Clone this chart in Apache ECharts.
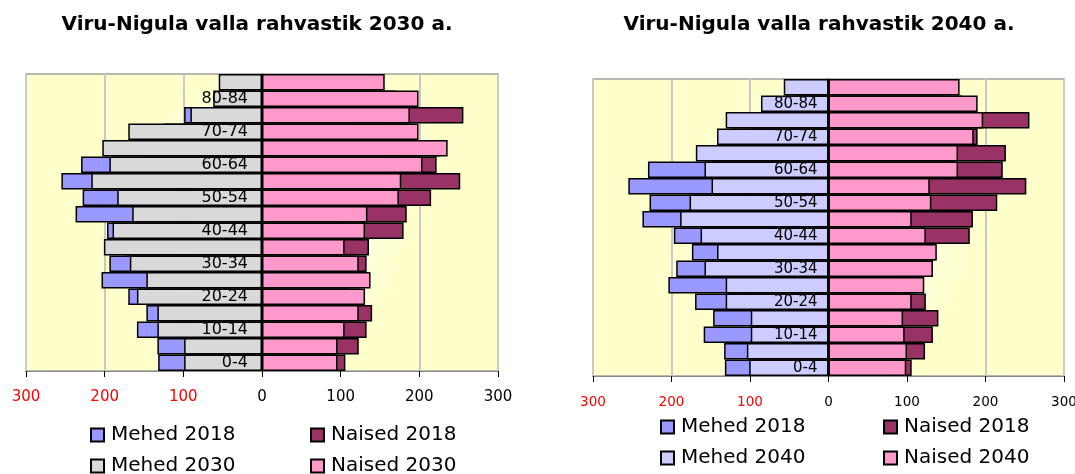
<!DOCTYPE html>
<html>
<head>
<meta charset="utf-8">
<script src="https://cdn.jsdelivr.net/npm/echarts@6/dist/echarts.min.js"></script>
<style>
html,body{margin:0;padding:0;background:#fff;}
#chart{width:1075px;height:474px;}
</style>
</head>
<body>
<div id="chart"></div>
<script>
// Age groups, bottom to top
const categories = ['0-4','5-9','10-14','15-19','20-24','25-29','30-34','35-39','40-44','45-49','50-54','55-59','60-64','65-69','70-74','75-79','80-84','85+'];

const title2030 = 'Viru-Nigula valla rahvastik 2030 a.';
const title2040 = 'Viru-Nigula valla rahvastik 2040 a.';

const mehed2018  = [132,133,159,147,170,204,194,174,197,237,228,255,230,150,125,99,55,40];
const naised2018 = [106,123,133,140,124,110,133,136,180,184,215,252,222,226,190,256,170,145];

const mehed2030  = [99,99,133,133,159,147,168,201,190,165,184,217,194,203,170,91,62,55];
const naised2030 = [96,96,105,123,131,138,123,105,131,134,174,177,204,236,199,188,199,156];

const mehed2040  = [101,104,99,99,131,131,158,142,163,189,177,149,158,169,142,131,86,57];
const naised2040 = [99,100,97,95,106,122,133,138,124,106,131,129,165,165,185,197,190,167];

const xMin = -300, xMax = 300, xStep = 100;

const FONT = 'DejaVu Sans';
const chart = echarts.init(document.getElementById('chart'), null, {renderer:'canvas'});

function bg(){
  return new echarts.graphic.RadialGradient(0.5, 0.5, 0.5, [
    {offset:0, color:'#FFFFFF'},
    {offset:0.3, color:'#FFFFF0'},
    {offset:1, color:'#FFFFCC'}
  ]);
}

function xAxisFor(gi, fs){
  return {
    gridIndex: gi, type:'value', min:xMin, max:xMax, interval:xStep,
    axisLine:{show:true, onZero:false, lineStyle:{color:'#888', width:1}},
    axisTick:{show:true, length:6, lineStyle:{color:'#000', width:1}},
    splitLine:{show:true, lineStyle:{color:'#C8C8C8', width:2}},
    axisLabel:{
      margin:19, fontFamily:FONT, fontSize:fs,
      formatter: v => String(Math.abs(v)),
      color: v => (Number(v) < 0 ? '#FF0000' : '#000000')
    }
  };
}
function yAxisFor(gi, offset, margin, fs){
  return {
    gridIndex: gi, type:'category', data:categories, z:10,
    position:'left', offset:offset,
    axisLine:{show:true, onZero:false, lineStyle:{color:'#000', width:1}},
    axisTick:{show:false},
    splitLine:{show:false},
    axisLabel:{interval:1, margin:margin, fontFamily:FONT, fontSize:fs, color:'#000', padding:[0,0,3,0]}
  };
}
function bar(name, data, color, gi, neg){
  return {
    name:name, type:'bar', xAxisIndex:gi, yAxisIndex:gi,
    data: neg ? data.map(v => -v) : data,
    barWidth:'100%', barGap:'-100%', barCategoryGap:0,
    itemStyle:{color:color, borderColor:'#000', borderWidth:1.5},
    emphasis:{disabled:true}, animation:false
  };
}
function legend(name, x, cy){
  return {
    data:[name], left:x, top:cy-10, padding:0, selectedMode:false,
    itemWidth:13, itemHeight:13, itemGap:0, icon:'rect',
    textStyle:{fontFamily:FONT, fontSize:20, lineHeight:20, color:'#000', padding:[0,0,0,2]}
  };
}

const option = {
  animation:false,
  backgroundColor:'#fff',
  title:[
    {text:title2030, left:257, top:15, textAlign:'center', padding:0,
     textStyle:{fontFamily:FONT, fontWeight:'bold', fontSize:20, color:'#000'}},
    {text:title2040, left:819, top:15, textAlign:'center', padding:0,
     textStyle:{fontFamily:FONT, fontWeight:'bold', fontSize:20, color:'#000'}}
  ],
  grid:[
    {left:26, width:472, top:74, height:297, show:true, backgroundColor:bg(), borderColor:'#A0A0A0', borderWidth:1.5, containLabel:false, outerBoundsMode:'none'},
    {left:593, width:471, top:79, height:297, show:true, backgroundColor:bg(), borderColor:'#A0A0A0', borderWidth:1.5, containLabel:false, outerBoundsMode:'none'}
  ],
  xAxis:[xAxisFor(0, 15), xAxisFor(1, 13.5)],
  yAxis:[yAxisFor(0,-236,14,16), yAxisFor(1,-235.5,11,15)],
  legend:[
    legend('Mehed 2018', 90, 435),
    legend('Naised 2018', 310, 435),
    legend('Mehed 2030', 90, 466),
    legend('Naised 2030', 310, 466),
    legend('Mehed 2018', 660, 427),
    legend('Naised 2018', 883, 427),
    legend('Mehed 2040', 660, 458),
    legend('Naised 2040', 883, 458)
  ],
  series:[
    bar('Mehed 2018', mehed2018, '#9999FF', 0, true),
    bar('Naised 2018', naised2018, '#993366', 0, false),
    bar('Mehed 2030', mehed2030, '#D9D9D9', 0, true),
    bar('Naised 2030', naised2030, '#FF99CC', 0, false),
    bar('Mehed 2018', mehed2018, '#9999FF', 1, true),
    bar('Naised 2018', naised2018, '#993366', 1, false),
    bar('Mehed 2040', mehed2040, '#CCCCFF', 1, true),
    bar('Naised 2040', naised2040, '#FF99CC', 1, false)
  ]
};
chart.setOption(option);
</script>
</body>
</html>
